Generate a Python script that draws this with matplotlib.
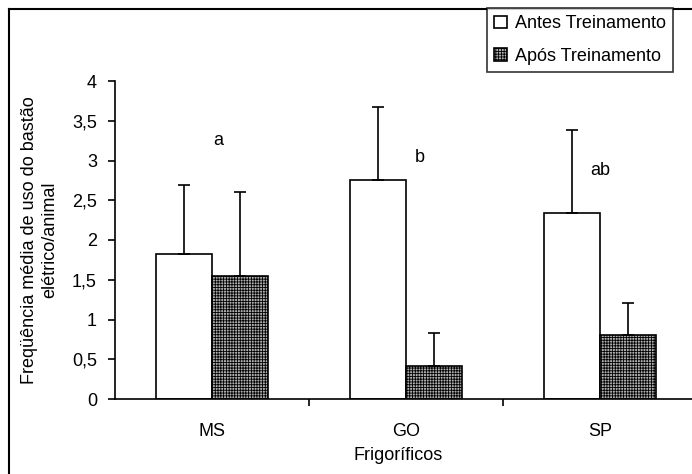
import numpy as np
import matplotlib.pyplot as plt
from matplotlib.lines import Line2D

plt.rcParams['font.family'] = ['Liberation Sans', 'DejaVu Sans']
plt.rcParams['hatch.linewidth'] = 0.6

# data
frigorificos = ["MS", "GO", "SP"]
antes = [1.82, 2.75, 2.34]
antes_err = [0.87, 0.92, 1.04]
apos = [1.55, 0.42, 0.80]
apos_err = [1.05, 0.41, 0.41]
letras = ["a", "b", "ab"]
letras_y = [3.25, 3.04, 2.88]
letras_dx = [0.03, 0.07, -0.0]

fig = plt.figure(figsize=(6.92, 4.74), dpi=100)
ax = fig.add_axes([115 / 692, 75 / 474, 582 / 692, 318 / 474])

x = np.arange(len(frigorificos)) + 0.5
w = 0.29
fs = 13

ax.bar(x - w / 2, antes, w, color="white", edgecolor="black", linewidth=1.2,
       label="Antes Treinamento", zorder=2)
ax.bar(x + w / 2, apos, w, color="#b0b0b0", edgecolor="black", linewidth=1.2,
       hatch="++++++", label="Após Treinamento", zorder=2)

ax.errorbar(x - w / 2, antes, yerr=[np.zeros(3), antes_err], fmt="none",
            ecolor="black", elinewidth=1.2, capsize=4.5, capthick=1.2, zorder=3)
ax.errorbar(x + w / 2, apos, yerr=[np.zeros(3), apos_err], fmt="none",
            ecolor="black", elinewidth=1.2, capsize=4.5, capthick=1.2, zorder=3)

for xi, dx, yi, t in zip(x, letras_dx, letras_y, letras):
    ax.text(xi + dx, yi, t, ha="center", va="center", fontsize=fs)

ax.set_xlim(0, 3)
ax.set_ylim(0, 4)
ax.set_yticks(np.arange(0, 4.01, 0.5))
ax.set_yticklabels(["0", "0,5", "1", "1,5", "2", "2,5", "3", "3,5", "4"])
ax.set_xticks(x)
ax.set_xticklabels(frigorificos)
ax.set_xticks([1, 2], minor=True)
ax.tick_params(axis="x", which="major", length=0, pad=17, labelsize=fs)
ax.tick_params(axis="x", which="minor", length=5, width=1.2, direction="out")
ax.tick_params(axis="y", length=5, width=1.2, direction="out", labelsize=fs, pad=8)

for s in ["top", "right"]:
    ax.spines[s].set_visible(False)
ax.spines["left"].set_linewidth(1.2)
ax.spines["bottom"].set_linewidth(1.2)

ax.set_ylabel("Freqüência média de uso do bastão\nelétrico/animal", fontsize=fs,
              linespacing=1.3)
ax.yaxis.set_label_coords(-0.097, 0.5)
fig.text(398 / 692, 1 - 455 / 474, "Frigoríficos", ha="center", va="center",
         fontsize=fs)

leg = fig.legend(loc="upper right", bbox_to_anchor=(673 / 692, 1 - 8 / 474),
                 fontsize=fs, frameon=True, fancybox=False, edgecolor="black",
                 handlelength=0.7, handleheight=0.7, handletextpad=0.45,
                 borderpad=0.4, labelspacing=0.85, borderaxespad=0)
leg.get_frame().set_linewidth(1.2)

# outer border of the chart area
fig.add_artist(Line2D([9 / 692, 9 / 692], [0, 1 - 9 / 474], color="black", lw=1.5))
fig.add_artist(Line2D([9 / 692, 1], [1 - 9 / 474, 1 - 9 / 474], color="black", lw=1.5))

fig.savefig("out.png", dpi=100)
